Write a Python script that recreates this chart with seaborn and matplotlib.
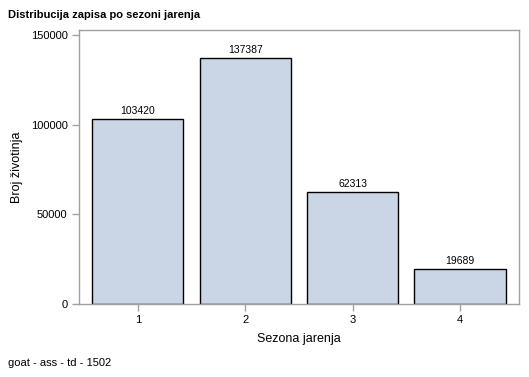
import matplotlib
matplotlib.use("Agg")
import matplotlib.pyplot as plt
import seaborn as sns
import pandas as pd

# data
seasons = ["1", "2", "3", "4"]
counts = [103420, 137387, 62313, 19689]

title = "Distribucija zapisa po sezoni jarenja"
x_label = "Sezona jarenja"
y_label = "Broj životinja"
footnote = "goat - ass - td - 1502"
y_ticks = [0, 50000, 100000, 150000]

sns.set_theme(style="white")
plt.rcParams["font.family"] = ["Liberation Sans", "DejaVu Sans"]
plt.rcParams.update({"text.color": "black", "axes.labelcolor": "black",
                     "xtick.color": "black", "ytick.color": "black"})

df = pd.DataFrame({"season": seasons, "count": counts})

fig = plt.figure(figsize=(5.29, 3.77), dpi=100)
ax = fig.add_axes([0.149, 0.194, 0.832, 0.726])

sns.barplot(data=df, x="season", y="count", color="#cad5e5", saturation=1,
            width=0.85, edgecolor="black", linewidth=1, ax=ax)

for c in ax.containers:
    ax.bar_label(c, labels=[str(v) for v in counts], padding=2, fontsize=7.5,
                 color="black")

ax.set_xlim(-0.55, 3.55)
ax.set_ylim(0, 152800)
ax.set_yticks(y_ticks)
ax.set_yticklabels([str(t) for t in y_ticks])

for s in ax.spines.values():
    s.set_color("#a0a0a0")
    s.set_linewidth(1)

ax.tick_params(axis="both", which="both", length=5, width=1, color="#a0a0a0",
               labelcolor="black", labelsize=8, direction="out", pad=3,
               left=True, bottom=True)
ax.set_xlabel(x_label, fontsize=9, labelpad=6, color="black")
ax.set_ylabel(y_label, fontsize=9, labelpad=6, color="black")

fig.text(8 / 529, 1 - 18 / 377, title, fontsize=8, fontweight="bold",
         ha="left", va="baseline", color="black")
fig.text(8 / 529, 1 - 366 / 377, footnote, fontsize=8, ha="left",
         va="baseline", color="black")

fig.savefig("out.png", dpi=100)
